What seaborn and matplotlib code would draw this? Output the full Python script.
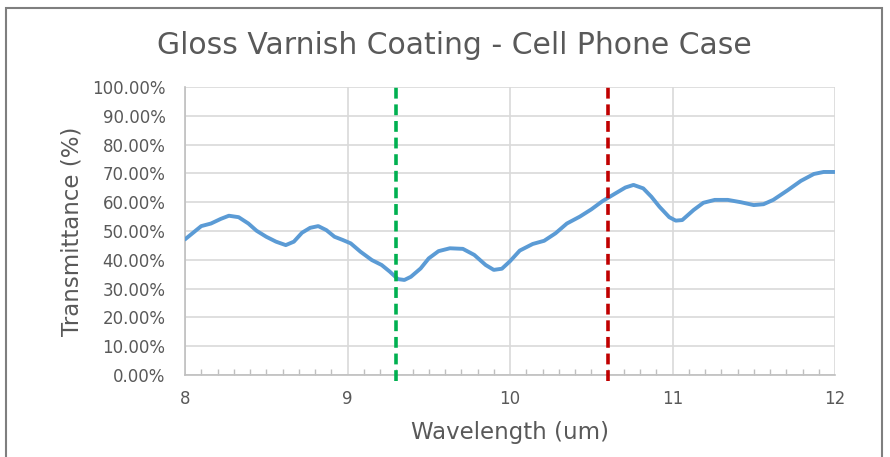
import pandas as pd
import seaborn as sns
import matplotlib.pyplot as plt
from matplotlib.patches import Rectangle
from matplotlib.ticker import PercentFormatter, MultipleLocator

# valores
wavelength = [8.00, 8.05, 8.10, 8.16, 8.22, 8.27, 8.33, 8.39, 8.44, 8.50,
              8.56, 8.62, 8.67, 8.72, 8.77, 8.82, 8.87, 8.92, 8.97, 9.02,
              9.08, 9.15, 9.21, 9.26, 9.31, 9.35, 9.39, 9.45, 9.50, 9.56,
              9.63, 9.71, 9.78, 9.85, 9.90, 9.95, 10.00, 10.06, 10.14, 10.21,
              10.28, 10.35, 10.43, 10.50, 10.57, 10.65, 10.71, 10.76, 10.82, 10.87,
              10.92, 10.98, 11.02, 11.06, 11.13, 11.19, 11.26, 11.34, 11.42, 11.50,
              11.56, 11.62, 11.71, 11.79, 11.87, 11.93, 12.00]
transmittance = [47.1, 49.4, 51.7, 52.6, 54.2, 55.3, 54.8, 52.6, 50.1, 48.0,
                 46.3, 45.1, 46.3, 49.4, 51.1, 51.7, 50.3, 48.0, 46.9, 45.7,
                 42.8, 39.9, 38.2, 35.9, 33.3, 33.0, 34.1, 37.0, 40.5, 43.0,
                 44.0, 43.8, 41.7, 38.2, 36.5, 36.9, 39.5, 43.2, 45.5, 46.6,
                 49.2, 52.6, 55.0, 57.5, 60.4, 63.1, 65.1, 66.0, 64.8, 61.9,
                 58.4, 54.8, 53.6, 53.8, 57.3, 59.8, 60.8, 60.8, 60.0, 59.0,
                 59.3, 60.8, 64.2, 67.4, 69.8, 70.5, 70.5]
marcadores = [9.3, 10.6]
cores_marcadores = ["#00B050", "#C00000"]

df = pd.DataFrame({"wavelength": wavelength, "transmittance": transmittance})

sns.set_style("white")
plt.rcParams['font.family'] = ['DejaVu Sans']

fig = plt.figure(figsize=(8.9, 4.57), dpi=100)
ax = fig.add_axes([185 / 890, 1 - 375 / 457, 650 / 890, 288 / 457])

sns.lineplot(data=df, x="wavelength", y="transmittance", ax=ax,
             color="#5B9BD5", linewidth=2.8, zorder=3)
ax.lines[0].set_solid_joinstyle("round")

for xv, c in zip(marcadores, cores_marcadores):
    ax.axvline(xv, ymin=-0.02, ymax=1, color=c, linewidth=2.6,
               dashes=(3, 1.6), clip_on=False, zorder=4)

ax.set_xlim(8, 12)
ax.set_ylim(0, 100)
ax.xaxis.set_major_locator(MultipleLocator(1))
ax.xaxis.set_minor_locator(MultipleLocator(0.1))
ax.yaxis.set_major_locator(MultipleLocator(10))
ax.yaxis.set_major_formatter(PercentFormatter(decimals=2))

ax.grid(True, which="major", color="#D9D9D9", linewidth=1.2)
for s in ["top", "right"]:
    ax.spines[s].set_visible(False)
for s in ["left", "bottom"]:
    ax.spines[s].set_color("#BFBFBF")
    ax.spines[s].set_linewidth(1.2)

ax.tick_params(axis="x", which="major", bottom=True, direction="in", length=0,
               labelsize=12, labelcolor="#595959", pad=11)
ax.tick_params(axis="x", which="minor", bottom=True, direction="in", length=4,
               color="#BFBFBF", width=1)
ax.tick_params(axis="y", length=0, labelsize=12, labelcolor="#595959", pad=14)

ax.set_xlabel("Wavelength (um)", fontsize=16.5, color="#595959", labelpad=9)
ax.set_ylabel("Transmittance (%)", fontsize=16.5, color="#595959", labelpad=6)
fig.text(0.51, 1 - 45 / 457, "Gloss Varnish Coating - Cell Phone Case",
         ha="center", va="center", fontsize=21.5, color="#595959")

# moldura do gráfico
fig.patches.append(Rectangle((6 / 890, -0.05), 876 / 890, 1.05 - 8 / 457,
                             transform=fig.transFigure, fill=False,
                             edgecolor="#7F7F7F", linewidth=1.5))

plt.savefig("out.png", dpi=100)
